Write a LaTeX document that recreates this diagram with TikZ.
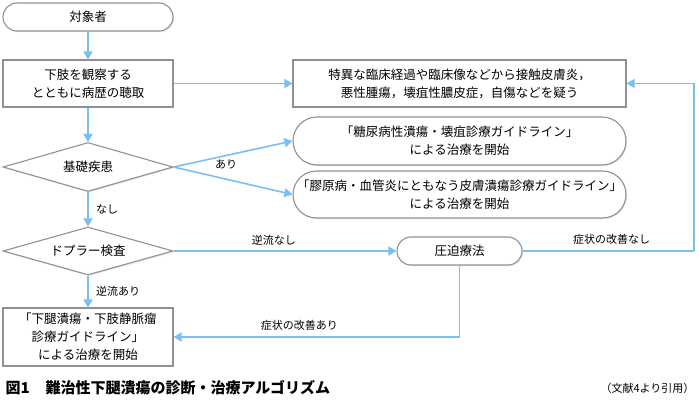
\documentclass[tikz,border=0pt]{standalone}
\usepackage{fontspec}
\setmainfont{Noto Sans CJK JP}
\usepackage{tikz}
\usetikzlibrary{shapes.geometric,arrows.meta,shadows}
\definecolor{flowblue}{RGB}{120,192,240}
\definecolor{boxgray}{RGB}{145,145,145}
\begin{document}
\begin{tikzpicture}
		[x=1pt,y=-1pt,
		font=\fontsize{12.5}{18}\selectfont,
		basebox/.style={draw=boxgray,fill=white,line width=1.1pt,align=center,inner sep=0pt,
drop shadow={shadow xshift=1.2pt,shadow yshift=-1.2pt,opacity=0.18}},
		squarebox/.style={basebox,rectangle},
		roundbox/.style={basebox,rectangle,rounded corners=#1},
		decision/.style={basebox,diamond,aspect=3.5},
		flow/.style={-{Triangle[length=8pt,width=9pt]},draw=flowblue,line width=1.6pt},
		flowline/.style={draw=flowblue,line width=1.6pt},
		textstyle/.style={font=\fontsize{11}{14}\selectfont}]
		\useasboundingbox (0,0) rectangle (699,404);
		\node at (88,17) (target) [roundbox=14pt,minimum width=170pt,minimum height=28pt] {対象者};
		\node at (88,83.5) (observe) [squarebox,minimum width=170pt,minimum height=47pt] {下肢を観察する\\とともに病歴の聴取};
		\node at (459.5,83.5) (suspect) [squarebox,minimum width=333pt,minimum height=47pt] {特異な臨床経過や臨床像などから接触皮膚炎，\\悪性腫瘍，壊疽性膿皮症，自傷などを疑う};
		\node at (88,167) (disease) [decision,minimum width=170pt,minimum height=49pt] {基礎疾患};
		\node at (459.5,141) (diabetes) [roundbox=24pt,minimum width=333pt,minimum height=48pt] {「糖尿病性潰瘍・壊疽診療ガイドライン」\\による治療を開始};
		\node at (459.5,194.5) (collagen) [roundbox=23.5pt,minimum width=333pt,minimum height=47pt] {「膠原病・血管炎にともなう皮膚潰瘍診療ガイドライン」\\による治療を開始};
		\node at (88,251) (doppler) [decision,minimum width=170pt,minimum height=48pt] {ドプラー検査};
		\node at (459.5,251) (compress) [roundbox=14pt,minimum width=125pt,minimum height=28pt] {圧迫療法};
		\node at (88,337) (venous) [squarebox,minimum width=170pt,minimum height=58pt] {「下腿潰瘍・下肢静脈瘤\\診療ガイドライン」\\による治療を開始};
		\coordinate (turn) at (694,251);
		% connectors
		\draw [flow] (target) -- (observe);
		\draw [flow] (observe) -- (suspect);
		\draw [flow] (observe) -- (disease);
		\draw [flow] (disease.east) -- (diabetes.west);
		\draw [flow] (disease.east) -- (collagen.west);
		\node at (226,164) (yes) [textstyle] {あり};
		\draw [flow] (disease) -- node[textstyle,right=4pt] {なし} (doppler);
		\draw [flow] (doppler) -- node[textstyle,above=2pt,pos=0.45] {逆流なし} (compress);
		\draw [flow] (doppler) -- node[textstyle,right=4pt] {逆流あり} (venous);
		\draw [flowline] (compress.east) -- node[textstyle,above=2pt,pos=0.52] {症状の改善なし} (turn);
		\draw [flow] (turn) |- (suspect.east);
		\draw [flow] (compress.south) |- node[textstyle,above=2pt,pos=0.78] {症状の改善あり} (venous.east);
		% caption
		\node at (2,388) (fignum) [anchor=west,font=\fontsize{15}{18}\selectfont\bfseries] {図1};
		\node at (42,388) (figtitle) [anchor=west,font=\fontsize{15}{18}\selectfont\bfseries] {難治性下腿潰瘍の診断・治療アルゴリズム};
		\node at (698,388) (source) [anchor=east,font=\fontsize{11}{14}\selectfont] {（文献4より引用）};
	\end{tikzpicture}
\end{document}
